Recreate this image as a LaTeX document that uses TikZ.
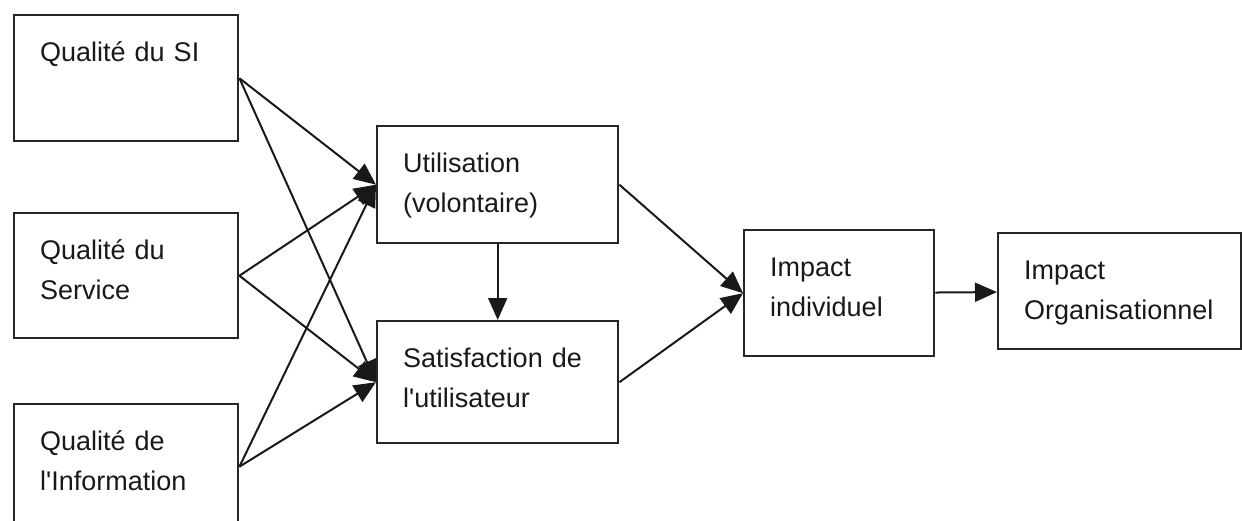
\documentclass[tikz,border=0pt]{standalone}
\usepackage{fontspec}
\setmainfont{Liberation Sans}
\usepackage{tikz}
\usetikzlibrary{arrows.meta,positioning}

\begin{document}
\begin{tikzpicture}[x=1pt, y=-1pt,
  every node/.style={draw=black!85, line width=2.4pt, anchor=north west, inner sep=0pt, inner xsep=26pt,
    text height=46pt, align=left, text=black!90, font=\fontsize{27}{40}\selectfont},
  arr/.style={draw=black!90, line width=2pt, -{Triangle[length=22pt,width=19pt]}}]
  \useasboundingbox (0,0) rectangle (1242,520);
  % dimensions du SI
  \node[text width=172pt, text depth=80pt] (si) at (13,14) {Qualité du SI};
  \node[text width=172pt, text depth=79pt] (serv) at (13,212) {Qualité du\\Service};
  \node[text width=172pt, text depth=79pt] (info) at (13,403) {Qualité de\\l\textquotesingle Information};
  % usage et satisfaction
  \node[text width=189pt, text depth=71pt] (util) at (376,125) {Utilisation\\(volontaire)};
  \node[text width=189pt, text depth=76pt] (sat) at (376,320) {Satisfaction de\\l\textquotesingle utilisateur};
  % impacts
  \node[text width=138pt, text depth=80pt] (ind) at (743,229) {Impact\\individuel};
  \node[text width=191pt, text depth=70pt] (org) at (997,232) {Impact\\Organisationnel};
  \foreach \s in {si,serv,info} {
    \draw[arr] (\s.east) -- (util.west);
    \draw[arr] (\s.east) -- (sat.west);
  }
  \draw[arr] (util) -- (sat);
  \draw[arr] (util.east) -- (ind.west);
  \draw[arr] (sat.east) -- (ind.west);
  \draw[arr] (ind) -- (org);
\end{tikzpicture}
\end{document}
